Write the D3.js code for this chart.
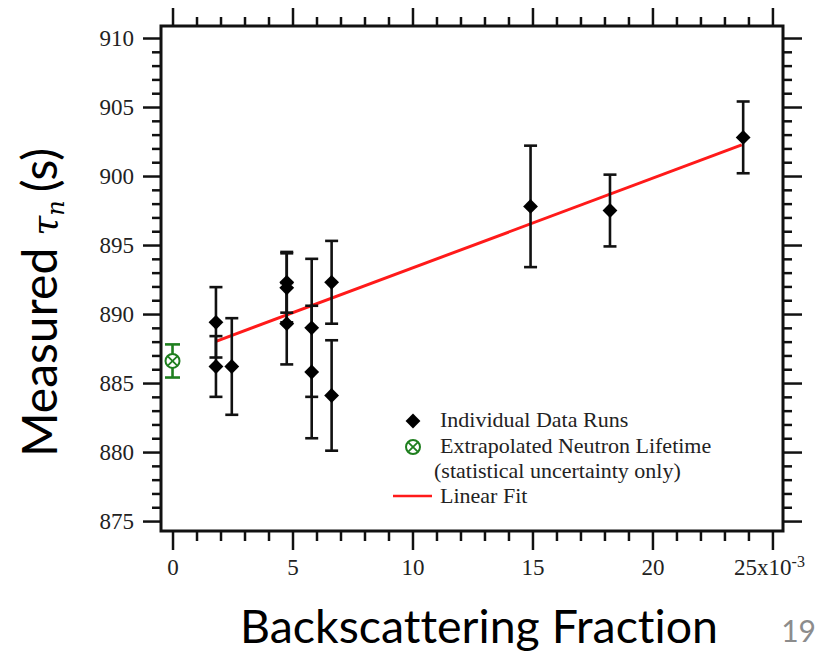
<!DOCTYPE html>
<html>
<head>
<meta charset="utf-8">
<script src="https://cdn.jsdelivr.net/npm/d3@7"></script>
<style>
  body { margin: 0; background: #fff; }
  svg { display: block; }
</style>
</head>
<body>
<div id="chart"></div>
<script>
// individual data runs: backscattering fraction (x10^-3), lifetime (s), error (s)
var runX   = [1.81, 1.81, 2.47, 4.76, 4.76, 4.76, 5.80, 5.80, 6.63, 6.63, 14.92, 18.23, 23.78];
var runTau = [889.4, 886.2, 886.2, 892.3, 891.9, 889.3, 889.0, 885.8, 892.3, 884.1, 897.8, 897.5, 902.8];
var runErr = [2.55, 2.2, 3.5, 2.2, 2.5, 2.95, 5.0, 4.8, 3.0, 4.0, 4.4, 2.6, 2.6];

// extrapolated neutron lifetime at zero backscattering
var extrapX = [0];
var extrapTau = [886.6];
var extrapErr = [1.2];

// linear fit end points
var fitX = [1.84, 23.72];
var fitTau = [888.04, 902.25];

var xTicks = [0, 5, 10, 15, 20, 25];
var yTicks = [875, 880, 885, 890, 895, 900, 905, 910];

var legendLabels = ["Individual Data Runs", "Extrapolated Neutron Lifetime", "(statistical uncertainty only)", "Linear Fit"];

var width = 827, height = 653;
var plot = {left: 161, right: 783, top: 26, bottom: 531};
var serif = '"Liberation Serif", "Times New Roman", serif';

var svg = d3.select("#chart").append("svg")
    .attr("width", width)
    .attr("height", height);

var xScale = d3.scaleLinear().domain([-0.48, 25.44]).range([plot.left, plot.right]);
var yScale = d3.scaleLinear().domain([874.28, 910.87]).range([plot.bottom, plot.top]);

var xMinor = d3.range(0, 26, 1).filter(function(d){ return d % 5 !== 0; });
var yMinor = d3.range(875, 911, 1).filter(function(d){ return d % 5 !== 0; });

function styleAxis(g) {
    g.select(".domain").remove();
    g.selectAll(".tick line").attr("stroke", "#111").attr("stroke-width", 2.5);
    g.selectAll(".tick text")
        .style("font-family", serif)
        .style("font-size", "23px")
        .attr("fill", "#222");
}

// minor ticks first
svg.append("g").attr("transform", "translate(" + plot.left + ",0)")
    .call(d3.axisLeft(yScale).tickValues(yMinor).tickSize(9).tickFormat(""))
    .call(styleAxis);
svg.append("g").attr("transform", "translate(" + plot.right + ",0)")
    .call(d3.axisRight(yScale).tickValues(yMinor).tickSize(9).tickFormat(""))
    .call(styleAxis);
svg.append("g").attr("transform", "translate(0," + plot.bottom + ")")
    .call(d3.axisBottom(xScale).tickValues(xMinor).tickSize(10).tickFormat(""))
    .call(styleAxis);
svg.append("g").attr("transform", "translate(0," + plot.top + ")")
    .call(d3.axisTop(xScale).tickValues(xMinor).tickSize(9).tickFormat(""))
    .call(styleAxis);

// major ticks
svg.append("g").attr("transform", "translate(" + plot.left + ",0)")
    .call(d3.axisLeft(yScale).tickValues(yTicks).tickSize(18).tickPadding(9).tickFormat(d3.format("d")))
    .call(styleAxis);
svg.append("g").attr("transform", "translate(" + plot.right + ",0)")
    .call(d3.axisRight(yScale).tickValues(yTicks).tickSize(19).tickFormat(""))
    .call(styleAxis);
var xAxis = svg.append("g").attr("transform", "translate(0," + plot.bottom + ")")
    .call(d3.axisBottom(xScale).tickValues(xTicks).tickSize(19).tickPadding(9).tickFormat(d3.format("d")))
    .call(styleAxis);
svg.append("g").attr("transform", "translate(0," + plot.top + ")")
    .call(d3.axisTop(xScale).tickValues(xTicks).tickSize(18).tickFormat(""))
    .call(styleAxis);

// last label gets the x10^-3 multiplier
xAxis.selectAll(".tick text").filter(function(d){ return d === 25; })
    .text("25x10")
    .attr("dx", "-0.15em")
    .append("tspan")
    .attr("dy", "-0.55em")
    .style("font-size", "16px")
    .text("-3");

// frame
svg.append("rect")
    .attr("x", plot.left).attr("y", plot.top)
    .attr("width", plot.right - plot.left).attr("height", plot.bottom - plot.top)
    .attr("fill", "none").attr("stroke", "#111").attr("stroke-width", 3);

// linear fit
svg.append("line")
    .attr("x1", xScale(fitX[0])).attr("y1", yScale(fitTau[0]))
    .attr("x2", xScale(fitX[1])).attr("y2", yScale(fitTau[1]))
    .attr("stroke", "#ff1a1a").attr("stroke-width", 3);

// error bars for runs
var runs = runX.map(function(x, i){ return {x: x, tau: runTau[i], err: runErr[i]}; });
var capW = 6.5;

var eb = svg.append("g").attr("stroke", "#111").attr("stroke-width", 2.6);
runs.forEach(function(d) {
    var cx = xScale(d.x);
    eb.append("line").attr("x1", cx).attr("x2", cx)
        .attr("y1", yScale(d.tau - d.err)).attr("y2", yScale(d.tau + d.err));
    eb.append("line").attr("x1", cx - capW).attr("x2", cx + capW)
        .attr("y1", yScale(d.tau - d.err)).attr("y2", yScale(d.tau - d.err));
    eb.append("line").attr("x1", cx - capW).attr("x2", cx + capW)
        .attr("y1", yScale(d.tau + d.err)).attr("y2", yScale(d.tau + d.err));
});

var diamond = d3.symbol().type(d3.symbolSquare).size(110);
svg.selectAll(".run")
    .data(runs)
    .enter()
    .append("path")
    .attr("class", "run")
    .attr("d", diamond)
    .attr("transform", function(d){ return "translate(" + xScale(d.x) + "," + yScale(d.tau) + ") rotate(45)"; })
    .attr("fill", "#000");

// extrapolated point
var green = "#1f7f1f";
var ext = extrapX.map(function(x, i){ return {x: x, tau: extrapTau[i], err: extrapErr[i]}; });

function otimes(g, r) {
    g.append("circle").attr("r", r).attr("fill", "#fff").attr("stroke", green).attr("stroke-width", 2);
    var k = r * 0.7071;
    g.append("line").attr("x1", -k).attr("y1", -k).attr("x2", k).attr("y2", k).attr("stroke", green).attr("stroke-width", 1.8);
    g.append("line").attr("x1", -k).attr("y1", k).attr("x2", k).attr("y2", -k).attr("stroke", green).attr("stroke-width", 1.8);
}

ext.forEach(function(d) {
    var cx = xScale(d.x);
    var g = svg.append("g").attr("stroke", green).attr("stroke-width", 2.6);
    g.append("line").attr("x1", cx).attr("x2", cx)
        .attr("y1", yScale(d.tau - d.err)).attr("y2", yScale(d.tau + d.err));
    g.append("line").attr("x1", cx - 7.5).attr("x2", cx + 7.5)
        .attr("y1", yScale(d.tau - d.err)).attr("y2", yScale(d.tau - d.err));
    g.append("line").attr("x1", cx - 7.5).attr("x2", cx + 7.5)
        .attr("y1", yScale(d.tau + d.err)).attr("y2", yScale(d.tau + d.err));
    otimes(svg.append("g").attr("transform", "translate(" + cx + "," + yScale(d.tau) + ")"), 7);
});

// legend
var legend = svg.append("g").attr("transform", "translate(413,0)");
var legFont = function(t) {
    return t.style("font-family", serif).style("font-size", "22px").attr("fill", "#222");
};
legend.append("path").attr("d", diamond).attr("transform", "translate(0,421) rotate(45)").attr("fill", "#000");
otimes(legend.append("g").attr("transform", "translate(0,447)"), 7);
legend.append("line").attr("x1", -20).attr("x2", 19).attr("y1", 496).attr("y2", 496)
    .attr("stroke", "#ff1a1a").attr("stroke-width", 2.5);
legFont(legend.append("text").attr("x", 27).attr("y", 427).text(legendLabels[0]));
legFont(legend.append("text").attr("x", 27).attr("y", 453).text(legendLabels[1]));
legFont(legend.append("text").attr("x", 21).attr("y", 478).text(legendLabels[2]));
legFont(legend.append("text").attr("x", 27).attr("y", 503).text(legendLabels[3]));

// axis titles
var sans = 'Lato, "Open Sans", "DejaVu Sans", sans-serif';
var yTitle = svg.append("text")
    .attr("transform", "translate(57,457) rotate(-90)")
    .style("font-family", sans).style("font-size", "48px").attr("fill", "#000");
yTitle.append("tspan").text("Measured");
yTitle.append("tspan").attr("dx", 12).style("font-family", '"DejaVu Serif", serif').style("font-style", "italic").style("font-size", "36px").text("τ");
yTitle.append("tspan").style("font-family", '"DejaVu Serif", serif').style("font-style", "italic").style("font-size", "24px").attr("dy", 7).text("n");
yTitle.append("tspan").attr("dy", -7).attr("dx", 8).text("(s)");

svg.append("text")
    .attr("x", 240).attr("y", 643)
    .attr("textLength", 478).attr("lengthAdjust", "spacingAndGlyphs")
    .style("font-family", sans).style("font-size", "47px")
    .style("font-variant-ligatures", "none").attr("fill", "#000")
    .text("Backscattering Fraction");

svg.append("text")
    .attr("x", 816).attr("y", 642).attr("text-anchor", "end")
    .style("font-family", sans).style("font-size", "30px").attr("fill", "#8c8c8c")
    .text("19");
</script>
</body>
</html>
